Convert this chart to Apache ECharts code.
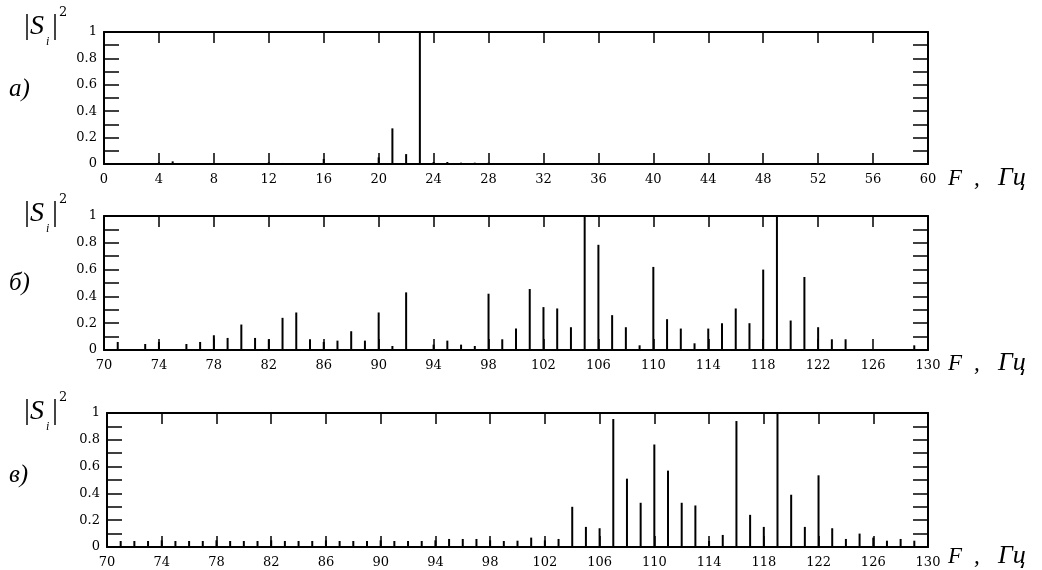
<!DOCTYPE html>
<html>
<head>
<meta charset="utf-8">
<script src="https://cdn.jsdelivr.net/npm/echarts@6/dist/echarts.min.js"></script>
<style>
  html, body { margin: 0; padding: 0; background: #fff; }
  #chart { width: 1042px; height: 570px; }
</style>
</head>
<body>
<div id="chart"></div>
<script>
// panel а) 0..60 Hz
var freqA = [4, 5, 12, 13, 16, 20, 21, 22, 23, 24, 25, 26, 27, 28];
var ampA  = [0.013, 0.02, 0.013, 0.008, 0.038, 0.05, 0.27, 0.075, 1.0, 0.015, 0.015, 0.01, 0.01, 0.01];

// panel б) 70..130 Hz
var freqB = [70, 71, 73, 74, 76, 77, 78, 79, 80, 81, 82, 83, 84, 85, 86, 87, 88, 89, 90, 91, 92,
             94, 95, 96, 97, 98, 99, 100, 101, 102, 103, 104, 105, 106, 107, 108, 109, 110,
             111, 112, 113, 114, 115, 116, 117, 118, 119, 120, 121, 122, 123, 124, 129, 130];
var ampB  = [0.06, 0.06, 0.045, 0.06, 0.045, 0.06, 0.11, 0.09, 0.19, 0.09, 0.08, 0.24, 0.28, 0.08, 0.06, 0.07, 0.14, 0.07, 0.28, 0.03, 0.43,
             0.04, 0.07, 0.04, 0.03, 0.42, 0.08, 0.16, 0.455, 0.32, 0.31, 0.17, 1.0, 0.785, 0.26, 0.17, 0.035, 0.62,
             0.23, 0.16, 0.05, 0.16, 0.2, 0.31, 0.2, 0.6, 1.0, 0.22, 0.545, 0.17, 0.08, 0.08, 0.035, 0.09];

// panel в) 70..130 Hz
var freqC = [70, 71, 72, 73, 74, 75, 76, 77, 78, 79, 80, 81, 82, 83, 84, 85, 86, 87, 88, 89, 90,
             91, 92, 93, 94, 95, 96, 97, 98, 99, 100, 101, 102, 103, 104, 105, 106, 107, 108, 109, 110,
             111, 112, 113, 114, 115, 116, 117, 118, 119, 120, 121, 122, 123, 124, 125, 126, 127, 128, 129, 130];
var ampC  = [0.05, 0.045, 0.045, 0.045, 0.05, 0.045, 0.045, 0.045, 0.05, 0.045, 0.045, 0.045, 0.05, 0.045, 0.045, 0.045, 0.05, 0.045, 0.045, 0.045, 0.05,
             0.045, 0.045, 0.045, 0.05, 0.06, 0.06, 0.06, 0.05, 0.045, 0.047, 0.07, 0.05, 0.06, 0.3, 0.15, 0.14, 0.955, 0.51, 0.33, 0.765,
             0.57, 0.33, 0.31, 0.045, 0.09, 0.94, 0.24, 0.15, 1.0, 0.39, 0.15, 0.535, 0.14, 0.06, 0.1, 0.07, 0.047, 0.06, 0.047, 0.1];

var ticksA = [0, 4, 8, 12, 16, 20, 24, 28, 32, 36, 40, 44, 48, 52, 56, 60];
var ticksB = [70, 74, 78, 82, 86, 90, 94, 98, 102, 106, 110, 114, 118, 122, 126, 130];

function pairs(xs, ys) {
    var out = [];
    for (var i = 0; i < xs.length; i++) out.push([xs[i], ys[i]]);
    return out;
}

var lineSt = { color: '#000', width: 2 };
var tickSt = { color: '#000', width: 1.5 };

var grids = [
    { left: 104, right: 114, top: 32, height: 132 },
    { left: 104, right: 114, top: 216, height: 134 },
    { left: 107, right: 114, top: 413, height: 134 }
];
var ranges = [[0, 60, ticksA], [70, 130, ticksB], [70, 130, ticksB]];

var xAxes = [], yAxes = [];
for (var g = 0; g < 3; g++) {
    var r = ranges[g];
    ['bottom', 'top'].forEach(function (pos) {
        xAxes.push({
            type: 'value', gridIndex: g, position: pos, min: r[0], max: r[1],
            splitLine: { show: false },
            axisLine: { show: true, onZero: false, lineStyle: lineSt },
            axisTick: { show: true, inside: true, length: 11, customValues: r[2], lineStyle: tickSt },
            axisLabel: { show: pos == 'bottom', customValues: r[2], margin: 9,
                         fontFamily: 'DejaVu Serif', fontSize: 13, color: '#000' }
        });
    });
    ['left', 'right'].forEach(function (pos) {
        yAxes.push({
            type: 'value', gridIndex: g, position: pos, min: 0, max: 1, interval: 0.2,
            splitLine: { show: false },
            axisLine: { show: true, onZero: false, lineStyle: lineSt },
            axisTick: { show: true, inside: true, length: 15, lineStyle: tickSt },
            minorTick: { show: true, splitNumber: 2, length: 15, lineStyle: tickSt },
            axisLabel: { show: pos == 'left', margin: 7, fontFamily: 'DejaVu Serif', fontSize: 13, color: '#000' }
        });
    });
}

var allData = [pairs(freqA, ampA), pairs(freqB, ampB), pairs(freqC, ampC)];
var series = [];
for (var g = 0; g < 3; g++) {
    series.push({
        type: 'bar', xAxisIndex: g * 2, yAxisIndex: g * 2, barWidth: 2,
        itemStyle: { color: '#000' }, data: allData[g], animation: false
    });
}

// labels: |S_i|^2, panel letters, F, Гц
var barTops = [11, 198, 396];
var fCenters = [179, 364, 557];
var letters = ['а)', 'б)', 'в)'];
var letterY = [90, 284, 476];
var graphics = [];
for (var g = 0; g < 3; g++) {
    var t = barTops[g];
    graphics.push({ type: 'text', left: 24, top: t, style: { text: '|', font: '30px "Liberation Serif"', fill: '#000' } });
    graphics.push({ type: 'text', left: 30, top: t + 2, style: { text: 'S', font: 'italic 28px "Liberation Serif"', fill: '#000' } });
    graphics.push({ type: 'text', left: 46, top: t + 25, style: { text: 'i', font: 'italic 12px "Liberation Serif"', fill: '#000' } });
    graphics.push({ type: 'text', left: 52, top: t, style: { text: '|', font: '30px "Liberation Serif"', fill: '#000' } });
    graphics.push({ type: 'text', left: 59, top: t - 5, style: { text: '2', font: '13px "DejaVu Serif"', fill: '#000' } });
    graphics.push({ type: 'text', left: 9, top: letterY[g] - 13, style: { text: letters[g], font: 'italic 25px "Liberation Serif"', fill: '#000' } });
    graphics.push({ type: 'text', left: 948, top: fCenters[g] - 12, style: { text: 'F', font: 'italic 23px "Liberation Serif"', fill: '#000' } });
    graphics.push({ type: 'text', left: 974, top: fCenters[g] - 12, style: { text: ',', font: 'italic 23px "Liberation Serif"', fill: '#000' } });
    graphics.push({ type: 'text', left: 998, top: fCenters[g] - 14, style: { text: 'Гц', font: 'italic 26px "Liberation Serif"', fill: '#000' } });
}

var myChart = echarts.init(document.getElementById('chart'));
myChart.setOption({
    animation: false,
    backgroundColor: '#fff',
    grid: grids,
    xAxis: xAxes,
    yAxis: yAxes,
    series: series,
    graphic: graphics
});
</script>
</body>
</html>
